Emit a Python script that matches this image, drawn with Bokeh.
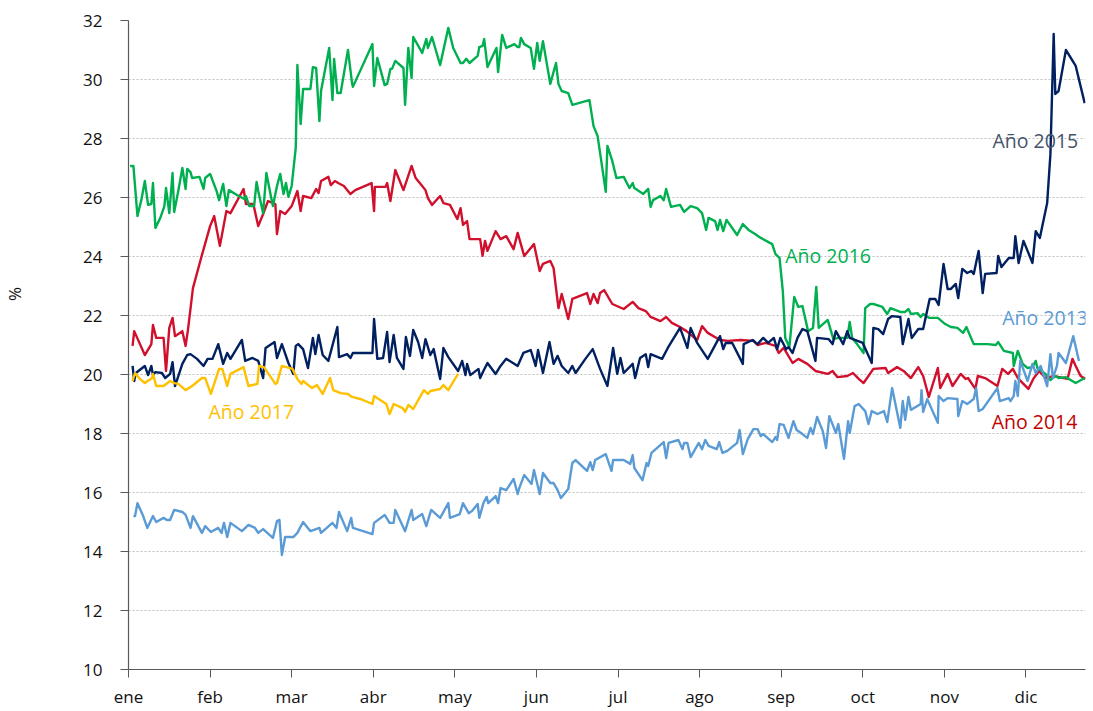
from bokeh.plotting import figure
from bokeh.models import Range1d, FixedTicker, Label
from bokeh.embed import file_html
from bokeh.resources import INLINE

months = ["ene", "feb", "mar", "abr", "may", "jun", "jul", "ago", "sep", "oct", "nov", "dic"]
month_pos = [0, 1, 2, 3, 4, 5, 6, 7, 8, 9, 10, 11]
y_ticks = [10, 12, 14, 16, 18, 20, 22, 24, 26, 28, 30, 32]

# x positions are in months since 1 January (fractional)
x_2016 = [0.02, 0.06, 0.11, 0.16, 0.20, 0.24, 0.28, 0.30, 0.33, 0.39, 0.44, 0.46, 0.50, 0.54, 0.56, 0.61, 0.66, 0.70, 0.72, 0.76,
          0.78, 0.87, 0.92, 0.94, 1.00, 1.08, 1.11, 1.16, 1.20, 1.23, 1.35, 1.42, 1.44, 1.48, 1.54, 1.57, 1.59, 1.65, 1.69, 1.74,
          1.77, 1.82, 1.86, 1.90, 1.93, 1.96, 2.00, 2.05, 2.07, 2.11, 2.14, 2.23, 2.26, 2.30, 2.34, 2.36, 2.46, 2.50, 2.52, 2.56,
          2.60, 2.69, 2.74, 2.75, 2.99, 3.01, 3.05, 3.14, 3.17, 3.21, 3.23, 3.27, 3.37, 3.39, 3.43, 3.47, 3.49, 3.60, 3.65, 3.67,
          3.72, 3.82, 3.92, 3.98, 4.07, 4.10, 4.14, 4.18, 4.28, 4.30, 4.34, 4.36, 4.40, 4.51, 4.53, 4.58, 4.63, 4.73, 4.77, 4.79,
          4.81, 4.85, 4.93, 4.97, 5.01, 5.04, 5.08, 5.17, 5.24, 5.27, 5.31, 5.39, 5.44, 5.65, 5.70, 5.75, 5.85, 5.87, 5.93, 5.98,
          6.07, 6.14, 6.18, 6.20, 6.31, 6.37, 6.40, 6.43, 6.52, 6.56, 6.59, 6.65, 6.76, 6.81, 6.89, 6.97, 7.03, 7.08, 7.11, 7.19,
          7.22, 7.25, 7.29, 7.33, 7.46, 7.53, 7.60, 7.68, 7.75, 7.89, 7.93, 7.98, 8.02, 8.05, 8.10, 8.16, 8.21, 8.26, 8.33, 8.39,
          8.43, 8.46, 8.57, 8.64, 8.70, 8.81, 8.84, 8.87, 8.93, 9.01, 9.03, 9.09, 9.13, 9.24, 9.30, 9.34, 9.46, 9.52, 9.56, 9.59,
          9.67, 9.71, 9.74, 9.81, 9.92, 10.01, 10.08, 10.16, 10.23, 10.27, 10.36, 10.41, 10.53, 10.63, 10.66, 10.73, 10.84, 10.85, 10.90, 10.96,
          11.02, 11.08, 11.12, 11.14, 11.24, 11.30, 11.36, 11.40, 11.49, 11.61, 11.72]
y_2016 = [27.07, 27.07, 25.37, 25.95, 26.56, 25.75, 25.78, 26.49, 24.97, 25.31, 25.71, 26.32, 25.47, 26.83, 25.51, 26.22, 27.00, 26.29, 26.97, 26.86,
          26.66, 26.70, 26.29, 26.66, 26.80, 26.22, 25.91, 26.46, 25.71, 26.25, 26.05, 25.95, 26.05, 25.71, 25.71, 26.53, 26.22, 25.47, 26.83, 26.12,
          25.71, 26.39, 26.80, 26.12, 26.49, 26.02, 26.39, 27.68, 30.49, 28.49, 29.68, 29.68, 30.42, 30.39, 28.59, 29.61, 31.07, 29.30, 30.70, 29.54,
          29.54, 31.00, 29.88, 29.75, 31.20, 29.78, 30.73, 29.81, 29.85, 30.36, 30.36, 30.63, 30.39, 29.14, 31.07, 30.05, 31.44, 30.90, 31.37, 31.07,
          31.44, 30.49, 31.75, 31.07, 30.56, 30.56, 30.70, 30.56, 30.80, 31.10, 31.14, 31.37, 30.42, 31.07, 30.25, 31.51, 31.07, 31.20, 31.10, 31.10,
          31.41, 31.20, 31.07, 30.36, 31.24, 30.63, 31.30, 29.85, 30.56, 29.85, 29.61, 29.54, 29.14, 29.30, 28.42, 28.08, 26.19, 27.75, 27.24, 26.66,
          26.70, 26.32, 26.49, 26.32, 26.12, 26.29, 25.68, 25.91, 26.05, 25.91, 26.29, 25.68, 25.75, 25.51, 25.71, 25.64, 25.47, 24.90, 25.31, 25.20,
          24.90, 25.24, 24.86, 25.24, 24.73, 25.10, 24.90, 24.76, 24.63, 24.42, 24.08, 23.95, 22.83, 21.24, 20.93, 22.63, 22.29, 22.32, 21.47, 21.58,
          22.97, 21.58, 21.85, 21.20, 21.24, 21.24, 21.78, 21.24, 21.03, 20.73, 22.25, 22.39, 22.39, 22.29, 22.05, 22.25, 22.12, 22.12, 22.22, 22.05,
          22.08, 21.95, 22.05, 21.92, 21.92, 21.71, 21.61, 21.58, 21.41, 21.61, 21.03, 21.03, 21.03, 21.00, 21.10, 20.80, 20.73, 20.29, 20.80, 20.36,
          20.22, 20.25, 20.46, 20.22, 20.02, 19.81, 19.95, 19.88, 19.91, 19.71, 19.88]

x_2014 = [0.05, 0.07, 0.20, 0.28, 0.30, 0.34, 0.43, 0.46, 0.50, 0.54, 0.57, 0.66, 0.70, 0.73, 0.79, 0.89, 1.00, 1.05, 1.12, 1.20,
          1.25, 1.41, 1.44, 1.53, 1.59, 1.65, 1.71, 1.80, 1.82, 1.86, 1.92, 2.00, 2.07, 2.11, 2.14, 2.24, 2.30, 2.33, 2.36, 2.45,
          2.48, 2.53, 2.57, 2.64, 2.72, 2.78, 2.98, 3.01, 3.02, 3.15, 3.17, 3.21, 3.27, 3.37, 3.47, 3.52, 3.58, 3.64, 3.67, 3.72,
          3.82, 3.86, 3.94, 4.03, 4.07, 4.10, 4.15, 4.18, 4.31, 4.34, 4.37, 4.40, 4.50, 4.56, 4.63, 4.72, 4.77, 4.85, 4.97, 5.04,
          5.08, 5.17, 5.21, 5.27, 5.31, 5.39, 5.44, 5.62, 5.66, 5.70, 5.75, 5.78, 5.83, 5.93, 6.07, 6.18, 6.25, 6.34, 6.40, 6.52,
          6.59, 6.66, 6.76, 6.84, 6.97, 7.03, 7.10, 7.25, 7.35, 7.50, 7.66, 7.71, 7.81, 7.93, 7.97, 8.03, 8.14, 8.21, 8.32, 8.42,
          8.57, 8.63, 8.69, 8.81, 8.88, 8.95, 9.01, 9.13, 9.28, 9.31, 9.42, 9.50, 9.59, 9.68, 9.74, 9.81, 9.92, 9.95, 10.04, 10.10,
          10.20, 10.26, 10.29, 10.38, 10.41, 10.50, 10.65, 10.71, 10.78, 10.84, 10.90, 11.03, 11.09, 11.16, 11.24, 11.34, 11.51, 11.57, 11.61, 11.67,
          11.73]
y_2014 = [20.97, 21.47, 20.66, 21.03, 21.68, 21.24, 21.24, 20.12, 21.58, 21.92, 21.30, 21.47, 20.97, 21.54, 22.93, 23.95, 25.03, 25.37, 24.36, 25.54,
          25.47, 26.29, 25.78, 25.78, 25.03, 25.44, 25.88, 25.78, 24.76, 25.54, 25.44, 25.71, 26.22, 25.54, 26.05, 25.98, 26.29, 26.15, 26.56, 26.70,
          26.42, 26.56, 26.49, 26.39, 26.12, 26.25, 26.49, 25.54, 26.36, 26.36, 26.49, 25.88, 26.93, 26.25, 27.07, 26.66, 26.46, 26.25, 25.98, 25.75,
          26.05, 25.81, 25.75, 25.27, 25.64, 25.07, 25.20, 24.59, 24.59, 24.02, 24.53, 24.19, 24.86, 24.59, 24.69, 24.25, 24.80, 24.02, 24.42, 23.51,
          23.75, 23.85, 23.61, 22.25, 22.73, 21.88, 22.56, 22.76, 22.39, 22.73, 22.42, 22.76, 22.86, 22.39, 22.22, 22.46, 22.25, 22.15, 21.95, 21.81,
          21.95, 21.75, 21.61, 21.47, 21.17, 21.64, 21.41, 21.17, 21.14, 21.17, 21.14, 21.00, 21.07, 20.97, 20.73, 20.90, 20.39, 20.53, 20.36, 20.12,
          20.02, 20.12, 19.91, 19.95, 20.05, 19.85, 19.71, 20.19, 20.22, 20.05, 20.25, 20.12, 19.88, 20.25, 19.95, 19.24, 20.22, 19.54, 20.02, 19.61,
          20.02, 19.85, 19.88, 19.51, 19.95, 19.88, 19.61, 20.19, 20.02, 20.19, 19.88, 19.51, 19.85, 20.12, 19.88, 19.95, 19.85, 20.53, 20.29, 19.95,
          19.85]

x_2015 = [0.05, 0.07, 0.09, 0.20, 0.24, 0.28, 0.30, 0.33, 0.41, 0.45, 0.51, 0.54, 0.57, 0.66, 0.68, 0.72, 0.76, 0.84, 0.92, 0.97,
          1.03, 1.10, 1.16, 1.21, 1.25, 1.39, 1.43, 1.52, 1.59, 1.65, 1.68, 1.79, 1.82, 1.88, 1.96, 2.02, 2.05, 2.08, 2.14, 2.20,
          2.26, 2.29, 2.33, 2.38, 2.45, 2.56, 2.58, 2.68, 2.72, 2.75, 2.99, 3.01, 3.05, 3.12, 3.17, 3.20, 3.25, 3.29, 3.37, 3.40,
          3.45, 3.49, 3.55, 3.60, 3.64, 3.70, 3.74, 3.82, 3.86, 3.92, 4.04, 4.09, 4.13, 4.15, 4.19, 4.29, 4.31, 4.35, 4.40, 4.50,
          4.56, 4.63, 4.77, 4.84, 4.93, 4.99, 5.02, 5.08, 5.16, 5.21, 5.26, 5.31, 5.39, 5.44, 5.48, 5.60, 5.69, 5.78, 5.87, 5.94,
          5.99, 6.03, 6.07, 6.18, 6.21, 6.27, 6.34, 6.37, 6.40, 6.54, 6.61, 6.76, 6.85, 6.89, 6.97, 7.10, 7.25, 7.29, 7.32, 7.40,
          7.53, 7.54, 7.65, 7.71, 7.78, 7.84, 7.91, 7.95, 7.99, 8.06, 8.09, 8.14, 8.20, 8.26, 8.32, 8.42, 8.44, 8.58, 8.63, 8.67,
          8.76, 8.81, 8.84, 9.00, 9.11, 9.13, 9.19, 9.25, 9.31, 9.36, 9.46, 9.49, 9.56, 9.60, 9.68, 9.74, 9.82, 9.89, 9.93, 9.99,
          10.04, 10.08, 10.14, 10.17, 10.22, 10.28, 10.33, 10.36, 10.42, 10.47, 10.50, 10.64, 10.66, 10.70, 10.79, 10.85, 10.87, 10.91, 10.97, 11.08,
          11.12, 11.17, 11.26, 11.30, 11.34, 11.36, 11.40, 11.49, 11.61, 11.72]
y_2015 = [20.29, 19.78, 20.05, 20.29, 19.98, 20.29, 19.98, 20.08, 20.05, 19.88, 20.02, 20.42, 19.61, 20.36, 20.46, 20.66, 20.69, 20.53, 20.29, 20.53,
          20.53, 21.03, 20.36, 20.73, 20.53, 21.17, 20.46, 20.56, 20.46, 19.88, 20.90, 21.10, 20.56, 21.03, 20.39, 20.02, 20.97, 21.03, 20.86, 20.22,
          21.24, 20.69, 21.34, 20.66, 20.46, 21.61, 20.59, 20.69, 20.56, 20.73, 20.73, 21.88, 20.53, 20.56, 21.44, 20.42, 21.34, 20.56, 20.19, 21.27,
          20.63, 21.51, 21.10, 20.56, 21.20, 20.66, 20.86, 19.85, 20.90, 20.59, 20.12, 20.46, 19.98, 20.36, 19.98, 20.19, 19.88, 20.12, 20.39, 20.02,
          20.29, 20.53, 20.29, 20.73, 20.83, 20.29, 20.83, 20.05, 21.10, 20.36, 20.63, 20.29, 20.05, 20.29, 20.05, 20.53, 20.86, 20.19, 19.61, 20.90,
          20.02, 20.56, 20.05, 20.36, 19.88, 20.56, 20.69, 20.25, 20.69, 20.53, 20.90, 21.58, 20.90, 21.58, 21.07, 20.53, 21.30, 20.86, 21.07, 21.07,
          20.36, 21.03, 21.17, 21.03, 21.24, 21.07, 21.24, 20.86, 21.24, 20.86, 20.93, 20.73, 21.24, 21.54, 21.47, 20.46, 21.24, 21.20, 21.03, 21.47,
          21.03, 21.47, 21.24, 21.07, 20.39, 21.58, 21.54, 21.37, 21.88, 21.98, 21.95, 21.03, 21.88, 21.24, 21.54, 21.54, 22.56, 22.56, 22.36, 23.75,
          22.90, 22.90, 23.07, 22.59, 23.58, 23.44, 23.51, 23.41, 24.19, 22.76, 23.41, 23.44, 24.02, 23.64, 23.95, 23.95, 24.69, 23.78, 24.53, 23.78,
          24.86, 24.63, 25.81, 27.47, 31.54, 29.51, 29.61, 31.00, 30.46, 29.20]

x_2013 = [0.06, 0.08, 0.11, 0.18, 0.23, 0.30, 0.34, 0.43, 0.47, 0.51, 0.56, 0.66, 0.70, 0.76, 0.79, 0.90, 0.94, 1.01, 1.10, 1.14,
          1.17, 1.21, 1.25, 1.39, 1.47, 1.55, 1.59, 1.65, 1.77, 1.82, 1.85, 1.88, 1.92, 2.02, 2.07, 2.14, 2.23, 2.34, 2.36, 2.50,
          2.55, 2.58, 2.68, 2.73, 2.75, 2.99, 3.01, 3.14, 3.20, 3.25, 3.27, 3.39, 3.47, 3.49, 3.60, 3.65, 3.71, 3.82, 3.92, 3.94,
          4.06, 4.10, 4.17, 4.21, 4.28, 4.30, 4.35, 4.39, 4.41, 4.50, 4.53, 4.56, 4.63, 4.72, 4.77, 4.79, 4.85, 4.94, 4.97, 5.04,
          5.08, 5.17, 5.21, 5.26, 5.30, 5.39, 5.44, 5.48, 5.62, 5.66, 5.69, 5.72, 5.85, 5.92, 5.94, 6.07, 6.15, 6.18, 6.20, 6.30,
          6.35, 6.37, 6.41, 6.56, 6.59, 6.62, 6.74, 6.79, 6.81, 6.85, 6.89, 6.99, 7.03, 7.07, 7.11, 7.21, 7.24, 7.28, 7.34, 7.46,
          7.49, 7.53, 7.59, 7.66, 7.71, 7.75, 7.78, 7.89, 7.93, 7.95, 7.98, 8.03, 8.09, 8.15, 8.19, 8.26, 8.32, 8.36, 8.39, 8.44,
          8.51, 8.55, 8.59, 8.67, 8.70, 8.77, 8.82, 8.84, 8.90, 8.95, 9.03, 9.07, 9.11, 9.18, 9.26, 9.30, 9.36, 9.46, 9.49, 9.52,
          9.56, 9.59, 9.71, 9.72, 9.74, 9.79, 9.92, 9.93, 9.99, 10.04, 10.16, 10.17, 10.22, 10.28, 10.36, 10.39, 10.42, 10.47, 10.65, 10.68,
          10.79, 10.81, 10.85, 10.87, 10.90, 10.93, 11.02, 11.08, 11.12, 11.18, 11.26, 11.30, 11.33, 11.38, 11.40, 11.49, 11.58, 11.65]
y_2013 = [15.20, 15.20, 15.64, 15.20, 14.80, 15.20, 15.00, 15.14, 15.07, 15.07, 15.41, 15.34, 15.24, 14.80, 15.20, 14.63, 14.86, 14.66, 14.80, 14.63,
          14.97, 14.49, 14.97, 14.69, 14.90, 14.80, 14.63, 14.76, 14.46, 15.03, 15.07, 13.88, 14.49, 14.49, 14.63, 15.00, 14.69, 14.80, 14.63, 14.97,
          14.80, 15.34, 14.69, 15.14, 14.80, 14.59, 14.97, 15.24, 14.97, 14.97, 15.41, 14.69, 15.41, 15.07, 15.27, 14.86, 15.41, 15.14, 15.64, 15.14,
          15.27, 15.64, 15.30, 15.37, 15.61, 15.14, 15.64, 15.85, 15.64, 15.88, 15.64, 16.15, 16.08, 16.46, 15.95, 16.15, 16.59, 16.29, 16.76, 15.95,
          16.66, 16.32, 16.32, 16.08, 15.81, 16.12, 17.00, 17.10, 16.73, 17.03, 16.76, 17.10, 17.30, 16.73, 17.10, 17.10, 16.97, 17.27, 16.83, 16.42,
          17.00, 16.90, 17.34, 17.71, 17.17, 17.68, 17.78, 17.47, 17.68, 17.68, 17.20, 17.68, 17.47, 17.78, 17.58, 17.47, 17.71, 17.34, 17.41, 17.68,
          18.12, 17.30, 17.81, 18.15, 18.15, 17.91, 17.98, 17.71, 17.88, 17.78, 18.32, 18.29, 17.85, 18.42, 18.12, 17.98, 17.85, 18.19, 17.98, 18.56,
          18.08, 17.51, 18.59, 18.02, 18.32, 17.14, 18.42, 18.02, 18.93, 19.00, 18.76, 18.32, 18.76, 18.66, 18.76, 18.39, 19.54, 18.19, 19.10, 18.46,
          19.24, 18.80, 19.00, 19.47, 18.73, 19.17, 18.36, 19.27, 19.10, 19.20, 19.17, 18.59, 19.10, 19.00, 19.17, 19.54, 18.76, 18.83, 19.54, 19.10,
          19.20, 19.10, 19.27, 19.78, 19.27, 20.46, 19.78, 20.36, 20.05, 20.29, 19.61, 20.69, 19.88, 20.29, 20.73, 20.39, 21.30, 20.46]

x_2017 = [0.05, 0.08, 0.14, 0.20, 0.29, 0.30, 0.34, 0.43, 0.51, 0.56, 0.61, 0.70, 0.78, 0.90, 0.94, 1.01, 1.11, 1.15, 1.21, 1.25,
          1.41, 1.47, 1.58, 1.60, 1.66, 1.80, 1.82, 1.88, 2.01, 2.07, 2.12, 2.14, 2.25, 2.31, 2.38, 2.47, 2.51, 2.60, 2.69, 2.74,
          2.84, 2.99, 3.01, 3.16, 3.20, 3.25, 3.36, 3.39, 3.43, 3.49, 3.62, 3.67, 3.70, 3.82, 3.86, 3.92, 3.97, 4.04]
y_2017 = [19.78, 20.05, 19.85, 19.71, 19.88, 20.02, 19.61, 19.61, 19.78, 19.71, 19.68, 19.47, 19.61, 19.88, 19.88, 19.34, 20.19, 20.19, 19.61, 20.02,
          20.25, 19.61, 19.68, 20.29, 20.25, 19.68, 19.71, 20.29, 20.19, 19.85, 19.68, 19.78, 19.54, 19.64, 19.34, 19.88, 19.47, 19.37, 19.34, 19.24,
          19.17, 19.00, 19.27, 19.00, 18.66, 19.00, 18.86, 18.73, 18.97, 18.83, 19.47, 19.34, 19.44, 19.51, 19.64, 19.47, 19.71, 20.02]

series = [
    ("Año 2014", x_2014, y_2014, "#D0102C", "#C00000", 10.58, 18.42),
    ("Año 2016", x_2016, y_2016, "#00B050", "#00B050", 8.05, 24.02),
    ("Año 2015", x_2015, y_2015, "#002060", "#44546A", 10.59, 27.92),
    ("Año 2013", x_2013, y_2013, "#5B9BD5", "#5B9BD5", 10.71, 21.92),
    ("Año 2017", x_2017, y_2017, "#FFC000", "#FFC000", 0.98, 18.76),
]

FONT = "Open Sans"

p = figure(width=1092, height=710, output_backend="svg", toolbar_location=None,
           x_range=Range1d(0, 11.73), y_range=Range1d(10, 32),
           min_border_left=128, min_border_right=7, min_border_top=20, min_border_bottom=41)
p.outline_line_color = None
p.background_fill_color = "white"
p.xgrid.grid_line_color = None
p.ygrid.grid_line_color = "#BFBFBF"
p.ygrid.grid_line_dash = "2 2"
p.ygrid.grid_line_width = 1

p.xaxis.ticker = FixedTicker(ticks=month_pos)
p.xaxis.major_label_overrides = {m: lab for m, lab in zip(month_pos, months)}
p.yaxis.ticker = FixedTicker(ticks=y_ticks)

for ax in (p.xaxis[0], p.yaxis[0]):
    ax.axis_line_color = "#595959"
    ax.axis_line_width = 1.2
    ax.major_tick_line_color = "#595959"
    ax.major_tick_in = 0
    ax.major_tick_out = 8
    ax.minor_tick_line_color = None
    ax.major_label_text_font = FONT
    ax.major_label_text_font_size = "17px"
    ax.major_label_text_color = "#111111"

p.xaxis.major_label_standoff = 7
p.yaxis.major_label_standoff = 18

# "%" unit label; the leading em spaces lift it above the axis centre as in the original
p.yaxis.axis_label = "\u2003" * 6 + "%"
p.yaxis.axis_label_text_font = FONT
p.yaxis.axis_label_text_font_size = "17px"
p.yaxis.axis_label_text_font_style = "normal"
p.yaxis.axis_label_text_color = "#111111"
p.yaxis.axis_label_standoff = 54

for name, xs, ys, col, lcol, lx, ly in series:
    p.line(xs, ys, line_color=col, line_width=2.4, line_join="round")

for name, xs, ys, col, lcol, lx, ly in series:
    p.add_layout(Label(x=lx, y=ly, text=name, text_color=lcol, text_font=FONT,
                       text_font_size="19.5px", text_align="left", text_baseline="middle"))

open("out.html", "w").write(file_html(p, INLINE))
